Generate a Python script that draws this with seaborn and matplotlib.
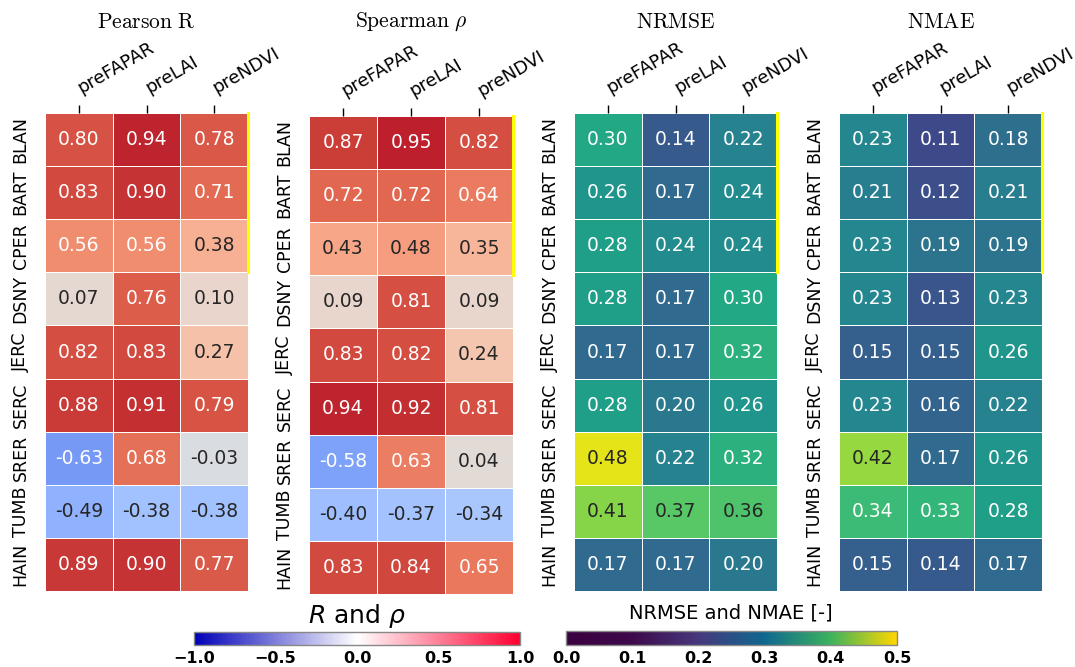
import numpy as np
import pandas as pd
import matplotlib
matplotlib.use("Agg")
import matplotlib.pyplot as plt
import matplotlib.transforms as mtrans
import seaborn as sns
from matplotlib.colors import LinearSegmentedColormap, Normalize
from matplotlib.cm import ScalarMappable

sites = ["BLAN", "BART", "CPER", "DSNY", "JERC", "SERC", "SRER", "TUMB", "HAIN"]
predictors = ["preFAPAR", "preLAI", "preNDVI"]

pearson_r = [
    [0.80, 0.94, 0.78],
    [0.83, 0.90, 0.71],
    [0.56, 0.56, 0.38],
    [0.07, 0.76, 0.10],
    [0.82, 0.83, 0.27],
    [0.88, 0.91, 0.79],
    [-0.63, 0.68, -0.03],
    [-0.49, -0.38, -0.38],
    [0.89, 0.90, 0.77],
]
spearman_rho = [
    [0.87, 0.95, 0.82],
    [0.72, 0.72, 0.64],
    [0.43, 0.48, 0.35],
    [0.09, 0.81, 0.09],
    [0.83, 0.82, 0.24],
    [0.94, 0.92, 0.81],
    [-0.58, 0.63, 0.04],
    [-0.40, -0.37, -0.34],
    [0.83, 0.84, 0.65],
]
nrmse = [
    [0.30, 0.14, 0.22],
    [0.26, 0.17, 0.24],
    [0.28, 0.24, 0.24],
    [0.28, 0.17, 0.30],
    [0.17, 0.17, 0.32],
    [0.28, 0.20, 0.26],
    [0.48, 0.22, 0.32],
    [0.41, 0.37, 0.36],
    [0.17, 0.17, 0.20],
]
nmae = [
    [0.23, 0.11, 0.18],
    [0.21, 0.12, 0.21],
    [0.23, 0.19, 0.19],
    [0.23, 0.13, 0.23],
    [0.15, 0.15, 0.26],
    [0.23, 0.16, 0.22],
    [0.42, 0.17, 0.26],
    [0.34, 0.33, 0.28],
    [0.15, 0.14, 0.17],
]

titles = [r"$\mathrm{Pearson\ R}$", r"$\mathrm{Spearman}\ \rho$", r"$\mathrm{NRMSE}$", r"$\mathrm{NMAE}$"]
highlight_rows = 3  # first three sites highlighted with yellow edge

W, H = 1075, 667
fig = plt.figure(figsize=(W / 100, H / 100), dpi=100)

def px_axes(left, top, right, bottom):
    return fig.add_axes([left / W, 1 - bottom / H, (right - left) / W, (bottom - top) / H])

axes_px = [(45, 113, 248, 591), (309, 116, 513, 594), (574, 113, 777, 591), (839, 113, 1042, 591)]
datasets = [pearson_r, spearman_rho, nrmse, nmae]
cmaps = ["coolwarm", "coolwarm", "viridis", "viridis"]
lims = [(-1, 1), (-1, 1), (0, 0.5), (0, 0.5)]

shift = mtrans.ScaledTranslation(-5 / 100, 0, fig.dpi_scale_trans)

for (l, t, r, b), data, cmap, (vmin, vmax), title in zip(axes_px, datasets, cmaps, lims, titles):
    ax = px_axes(l, t, r, b)
    df = pd.DataFrame(data, index=sites, columns=predictors)
    sns.heatmap(df, ax=ax, cmap=cmap, vmin=vmin, vmax=vmax, annot=True, fmt=".2f",
                cbar=False, linewidths=0.6, linecolor="white", annot_kws={"size": 13.5})
    ax.xaxis.tick_top()
    ax.set_xticklabels(predictors, rotation=30, ha="left", va="center",
                       rotation_mode="anchor", fontsize=13)
    for lab in ax.get_xticklabels():
        lab.set_transform(lab.get_transform() + shift)
    ax.set_yticklabels(sites, rotation=90, va="center", fontsize=12.5)
    ax.tick_params(axis="x", length=6, width=1, pad=11, top=True, bottom=False)
    ax.tick_params(axis="y", length=0, pad=11)
    ax.set_xlabel("")
    ax.set_ylabel("")
    ax.plot([3, 3], [0, highlight_rows], color="yellow", lw=2.2, clip_on=False, zorder=5)
    fig.text((l + r) / 2 / W, 1 - 22 / H, title, ha="center", va="center",
             fontsize=15.5, math_fontfamily="cm")

# colorbars
rwb = LinearSegmentedColormap.from_list("rwb", ["#0000b8", "#ffffff", "#ff0030"])
vir = LinearSegmentedColormap.from_list(
    "vir", [(0, "#3b0140"), (0.2, "#3e0a4c"), (0.4, "#46387c"),
            (0.6, "#0f6890"), (0.8, "#3cb25e"), (1.0, "#ffd700")])

cax1 = px_axes(194, 632, 520, 645)
cb1 = fig.colorbar(ScalarMappable(Normalize(-1, 1), rwb), cax=cax1, orientation="horizontal")
cb1.set_ticks([-1.0, -0.5, 0.0, 0.5, 1.0])
cax2 = px_axes(566, 631, 897, 645)
cb2 = fig.colorbar(ScalarMappable(Normalize(0, 0.5), vir), cax=cax2, orientation="horizontal")
cb2.set_ticks([0.0, 0.1, 0.2, 0.3, 0.4, 0.5])
for cb in (cb1, cb2):
    cb.outline.set_edgecolor("#888888")
    cb.outline.set_linewidth(1)
    cb.ax.tick_params(length=0, pad=4)
    for lab in cb.ax.get_xticklabels():
        lab.set_fontweight("bold")
        lab.set_fontsize(11.5)

fig.text(357 / W, 1 - 616 / H, r"$R$ and $\rho$", ha="center", va="center", fontsize=18)
fig.text(731 / W, 1 - 613 / H, "NRMSE and NMAE [-]", ha="center", va="center", fontsize=14)

fig.savefig("out.png", dpi=100)
